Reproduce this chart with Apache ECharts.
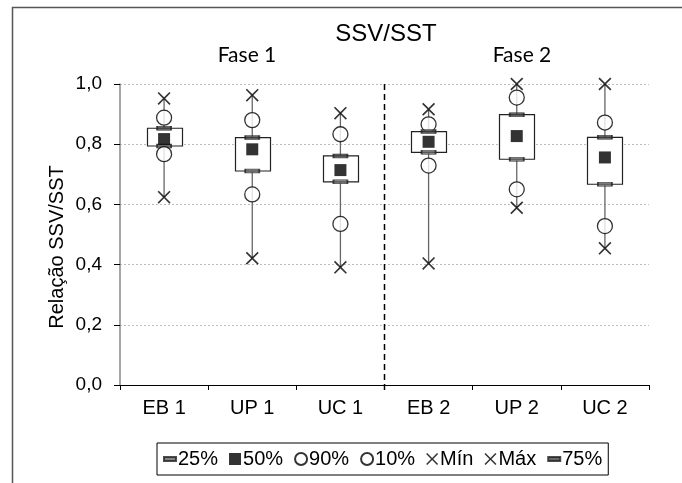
<!DOCTYPE html>
<html>
<head>
<meta charset="utf-8">
<script src="https://cdn.jsdelivr.net/npm/echarts@6/dist/echarts.min.js"></script>
<style>html,body{margin:0;padding:0;background:#fff;}#c{width:682px;height:483px;}</style>
</head>
<body>
<div id="c"></div>
<script>
var categories = ['EB 1', 'UP 1', 'UC 1', 'EB 2', 'UP 2', 'UC 2'];
var p25 = [0.794, 0.711, 0.675, 0.773, 0.750, 0.667];
var p50 = [0.817, 0.783, 0.714, 0.808, 0.827, 0.756];
var p90 = [0.888, 0.880, 0.833, 0.866, 0.955, 0.872];
var p10 = [0.767, 0.633, 0.535, 0.729, 0.650, 0.528];
var minV = [0.624, 0.421, 0.391, 0.404, 0.589, 0.454];
var maxV = [0.952, 0.963, 0.903, 0.916, 1.000, 1.000];
var p75 = [0.853, 0.822, 0.761, 0.842, 0.898, 0.823];
var yTicks = [0, 0.2, 0.4, 0.6, 0.8, 1.0];
var phaseLabels = ['Fase 1', 'Fase 2'];

var FONT = 'Liberation Sans, Arial, sans-serif';
var XPATH = 'path://M0,0.9L0.9,0L5,4.1L9.1,0L10,0.9L5.9,5L10,9.1L9.1,10L5,5.9L0.9,10L0,9.1L4.1,5Z';
var BARPATH = 'path://M0,0M12,12M0,4L12,4L12,8L0,8Z';

function pts(arr) { return arr.map(function (v, i) { return [i, v]; }); }

var boxData = categories.map(function (c, i) { return [i, minV[i], maxV[i], p25[i], p75[i]]; });

function renderBox(params, api) {
  var i = api.value(0);
  var pMin = api.coord([i, api.value(1)]);
  var pMax = api.coord([i, api.value(2)]);
  var pQ1 = api.coord([i, api.value(3)]);
  var pQ3 = api.coord([i, api.value(4)]);
  var w = 35;
  return {
    type: 'group',
    children: [
      { type: 'line', shape: { x1: pMin[0], y1: pMin[1], x2: pMax[0], y2: pMax[1] }, style: { stroke: '#666', lineWidth: 1.3 } },
      { type: 'rect', shape: { x: Math.round(pQ1[0] - w / 2) + 0.5, y: pQ3[1], width: w, height: pQ1[1] - pQ3[1] }, style: { fill: '#fff', stroke: '#222', lineWidth: 1.2 } }
    ]
  };
}

function renderDivider(params, api) {
  var i = api.value(0);
  var band = api.size([1, 0])[0];
  var top = api.coord([i, 1.0]);
  var bot = api.coord([i, 0]);
  var x = top[0] + band / 2;
  return { type: 'line', shape: { x1: x, y1: top[1], x2: x, y2: bot[1] + 5 }, style: { stroke: '#000', lineWidth: 1.5, lineDash: [6, 4] } };
}

var chart = echarts.init(document.getElementById('c'));
var option = {
  animation: false,
  backgroundColor: '#fff',
  grid: { left: 120, right: 33, top: 84, bottom: 98 },
  graphic: [
    { type: 'rect', shape: { x: 12.5, y: 7.5, width: 700, height: 520 }, style: { fill: 'none', stroke: '#555', lineWidth: 1.5 }, z: -10 },
    { type: 'text', x: 386, y: 34, style: { text: 'SSV/SST', font: '24px ' + FONT, fill: '#000', textAlign: 'center', textVerticalAlign: 'middle' } },
    { type: 'text', x: 247, y: 55, style: { text: phaseLabels[0], font: '21px Lato, sans-serif', fill: '#000', textAlign: 'center', textVerticalAlign: 'middle' } },
    { type: 'text', x: 522, y: 55, style: { text: phaseLabels[1], font: '21px Lato, sans-serif', fill: '#000', textAlign: 'center', textVerticalAlign: 'middle' } },
    { type: 'text', x: 57, y: 247, rotation: Math.PI / 2, style: { text: 'Relação SSV/SST', font: '20px ' + FONT, fill: '#000', textAlign: 'center', textVerticalAlign: 'middle' } }
  ],
  legend: {
    left: 157, top: 443,
    orient: 'horizontal',
    itemWidth: 12, itemHeight: 12, itemGap: 11,
    padding: [6, 6],
    borderColor: '#000', borderWidth: 1,
    textStyle: { fontFamily: FONT, fontSize: 20, color: '#000', padding: [0, 0, 0, -3] },
    data: [
      { name: '25%', icon: BARPATH },
      { name: '50%', icon: 'rect' },
      { name: '90%', icon: 'circle' },
      { name: '10%', icon: 'circle' },
      { name: 'Mín', icon: XPATH },
      { name: 'Máx', icon: XPATH },
      { name: '75%', icon: BARPATH }
    ]
  },
  xAxis: {
    type: 'category',
    data: categories,
    boundaryGap: true,
    axisLine: { lineStyle: { color: '#000', width: 1.2 } },
    axisTick: { show: true, length: 5, lineStyle: { color: '#000' } },
    axisLabel: { fontFamily: FONT, fontSize: 20, color: '#000', margin: 13 },
    splitLine: { show: false }
  },
  yAxis: {
    type: 'value',
    min: 0, max: 1, interval: 0.2,
    axisLine: { show: true, lineStyle: { color: '#888', width: 1.5 } },
    axisTick: { show: true, length: 6, lineStyle: { color: '#000' } },
    axisLabel: { fontFamily: FONT, fontSize: 19, color: '#000', margin: 18, formatter: function (v) { return v.toFixed(1).replace('.', ','); } },
    splitLine: { show: true, lineStyle: { color: '#bbb', type: [2, 2], width: 1 } }
  },
  series: [
    { type: 'custom', name: 'boxes', renderItem: renderBox, data: boxData, encode: { x: 0, y: [1, 2, 3, 4] }, z: 2, silent: true },
    { type: 'custom', name: 'divider', renderItem: renderDivider, data: [[2]], encode: { x: 0 }, z: 1, silent: true },
    { type: 'scatter', name: '25%', data: pts(p25), symbol: 'rect', symbolSize: [14, 4], itemStyle: { color: '#666', borderColor: '#222', borderWidth: 1 }, z: 5 },
    { type: 'scatter', name: '50%', data: pts(p50), symbol: 'rect', symbolSize: 12, itemStyle: { color: '#000' }, z: 5 },
    { type: 'scatter', name: '90%', data: pts(p90), symbol: 'circle', symbolSize: 15, itemStyle: { color: '#fff', borderColor: '#000', borderWidth: 1.3 }, z: 5 },
    { type: 'scatter', name: '10%', data: pts(p10), symbol: 'circle', symbolSize: 15, itemStyle: { color: '#fff', borderColor: '#000', borderWidth: 1.3 }, z: 5 },
    { type: 'scatter', name: 'Mín', data: pts(minV), symbol: XPATH, symbolSize: 13, itemStyle: { color: '#000' }, z: 5 },
    { type: 'scatter', name: 'Máx', data: pts(maxV), symbol: XPATH, symbolSize: 13, itemStyle: { color: '#000' }, z: 5 },
    { type: 'scatter', name: '75%', data: pts(p75), symbol: 'rect', symbolSize: [14, 4], itemStyle: { color: '#444', borderColor: '#222', borderWidth: 1 }, z: 5 }
  ]
};
chart.setOption(option);
</script>
</body>
</html>
